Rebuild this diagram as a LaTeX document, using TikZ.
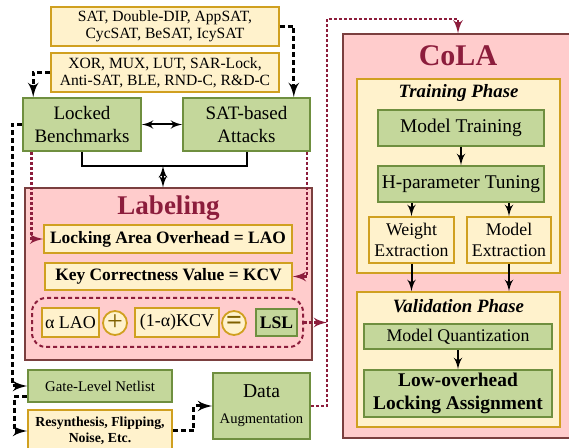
\documentclass[tikz,border=0pt]{standalone}
\usepackage{fontspec}
\setmainfont{Liberation Serif}
\usetikzlibrary{arrows}
\definecolor{yelfill}{HTML}{FFF2CC}
\definecolor{yeldraw}{HTML}{D0A020}
\definecolor{grnfill}{HTML}{C4D79B}
\definecolor{grndraw}{HTML}{6F8F3F}
\definecolor{pinkfill}{HTML}{FFCCCC}
\definecolor{pinkdraw}{HTML}{7B3F3F}
\definecolor{titlered}{HTML}{8C1D3C}
\definecolor{circtext}{HTML}{7F6000}

\begin{document}
\begin{tikzpicture}[x=0.5pt, y=-0.5pt]
	\tikzset{ybox/.style = {draw=yeldraw, fill=yelfill, line width=0.8pt, inner sep=0pt, align=center}}
	\tikzset{gbox/.style = {draw=grndraw, fill=grnfill, line width=0.8pt, inner sep=0pt, align=center}}
	\tikzset{pbox/.style = {draw=pinkdraw, fill=pinkfill, line width=0.6pt, inner sep=0pt}}
	\tikzset{circ/.style = {shape=circle, draw=yeldraw, fill=yelfill, line width=0.9pt, inner sep=0pt, minimum size=12pt, text=circtext}}
	\tikzset{edge/.style = {->, > = latex', line width=1pt}}
	\tikzset{dedge/.style = {->, > = latex', line width=1.5pt, dash pattern=on 2.5pt off 1.5pt}}
	\tikzset{redge/.style = {->, > = latex', titlered, line width=1.3pt, dash pattern=on 1.4pt off 1.1pt}}
	\useasboundingbox (0, 0) rectangle (569, 448);
	\clip (0, 0) rectangle (569, 448);
	% left part
	\node[ybox, minimum width=114pt, minimum height=19.5pt, font=\fontsize{7.8}{8.7}\selectfont] (atklist) at (165, 26.5) {SAT, Double-DIP, AppSAT,\\CycSAT, BeSAT, IcySAT};
	\node[ybox, minimum width=114pt, minimum height=19.5pt, font=\fontsize{7.8}{8.7}\selectfont] (locklist) at (165, 72.5) {XOR, MUX, LUT, SAR-Lock,\\Anti-SAT, BLE, RND-C, R\&D-C};
	\node[gbox, minimum width=59pt, minimum height=26.5pt, font=\fontsize{9.5}{11.5}\selectfont] (bench) at (82, 124.5) {Locked\\Benchmarks};
	\node[gbox, minimum width=63.5pt, minimum height=26.5pt, font=\fontsize{9.5}{11.5}\selectfont] (attack) at (246.5, 124.5) {SAT-based\\Attacks};
	\node[pbox, minimum width=143.5pt, minimum height=86pt] (labeling) at (168.5, 274) {};
	\node[text=titlered, font=\fontsize{13.5}{14}\selectfont\bfseries] (labtitle) at (168.5, 208) {Labeling};
	\node[ybox, minimum width=124pt, minimum height=14pt, font=\fontsize{8.7}{9}\selectfont\bfseries] (lao) at (168, 239) {Locking Area Overhead = LAO};
	\node[ybox, minimum width=123.5pt, minimum height=13.5pt, font=\fontsize{8.7}{9}\selectfont\bfseries] (kcv) at (168.5, 276.5) {Key Correctness Value = KCV};
	\node[draw=titlered, line width=1pt, dash pattern=on 2pt off 1.5pt, rounded corners=7pt, minimum width=135.5pt, minimum height=24.5pt] (lslgroup) at (167.5, 322.5) {};
	\node[ybox, minimum width=28.5pt, minimum height=14.5pt, font=\fontsize{9}{9}\selectfont] (alao) at (70.5, 322.5) {α LAO};
	\node[circ, font=\fontsize{14}{14}\selectfont] (plus) at (115, 323) {+};
	\node[ybox, minimum width=42pt, minimum height=14.5pt, font=\fontsize{9}{9}\selectfont] (akcv) at (177, 322.5) {(1-α)KCV};
	\node[circ, font=\fontsize{14}{14}\selectfont\bfseries] (equal) at (234, 323) {=};
	\node[gbox, minimum width=20.5pt, minimum height=13.5pt, font=\fontsize{8.8}{9}\selectfont\bfseries] (lsl) at (276.5, 322.5) {LSL};
	\node[gbox, minimum width=72pt, minimum height=16pt, font=\fontsize{7.4}{8}\selectfont] (gate) at (100, 386) {Gate-Level Netlist};
	\node[ybox, minimum width=72pt, minimum height=21pt, font=\fontsize{6.9}{8}\selectfont\bfseries] (resyn) at (100, 431) {Resynthesis, Flipping,\\Noise, Etc.};
	\node[gbox, minimum width=48.5pt, minimum height=33pt] (data) at (261.5, 406) {\fontsize{9.8}{10}\selectfont Data\\[1pt]\fontsize{7.3}{9}\selectfont Augmentation};
	% CoLA part
	\node[pbox, minimum width=115pt, minimum height=202pt] (cola) at (458, 236) {};
	\node[text=titlered, font=\fontsize{15}{16}\selectfont\bfseries] (colatitle) at (458, 56) {CoLA};
	\node[ybox, minimum width=101.5pt, minimum height=97pt] (train) at (458.5, 176) {};
	\node[font=\fontsize{9.4}{10}\selectfont\bfseries\itshape] (traintitle) at (458.5, 93) {Training Phase};
	\node[gbox, minimum width=83pt, minimum height=18pt, font=\fontsize{9.7}{10}\selectfont] (mtrain) at (461, 128) {Model Training};
	\node[gbox, minimum width=83pt, minimum height=18pt, font=\fontsize{9.7}{10}\selectfont] (hparam) at (461, 184) {H-parameter Tuning};
	\node[ybox, minimum width=42.5pt, minimum height=23pt, font=\fontsize{8.9}{10.8}\selectfont] (wext) at (411.5, 240) {Weight\\Extraction};
	\node[ybox, minimum width=42pt, minimum height=23pt, font=\fontsize{8.9}{10.8}\selectfont] (mext) at (509, 240) {Model\\Extraction};
	\node[ybox, minimum width=101.5pt, minimum height=67.5pt] (valid) at (458.5, 359.5) {};
	\node[font=\fontsize{9.4}{10}\selectfont\bfseries\itshape] (validtitle) at (458.5, 306) {Validation Phase};
	\node[gbox, minimum width=94pt, minimum height=12.5pt, font=\fontsize{8.9}{9}\selectfont] (mquant) at (458, 336.5) {Model Quantization};
	\node[gbox, minimum width=94pt, minimum height=23.5pt, font=\fontsize{9.7}{11.5}\selectfont\bfseries] (lowov) at (458, 393.5) {Low-overhead\\Locking Assignment};
	\coordinate (join) at (163, 166);
	\coordinate (bend) at (327, 19);
	% connectors
	\draw[edge, <->] (bench) to (attack);
	\draw[line width=1pt] (bench.south) |- (join) -| (attack.south);
	\draw[edge, <->] (join) to (join |- labeling.north);
	\draw[dedge] (atklist.east) -| ([xshift=-8.5pt]attack.north east);
	\draw[dedge] (locklist.west) -| ([xshift=5.5pt]bench.north west);
	\draw[dedge] (bench.west) -- ++(-10, 0) |- (gate.west);
	\draw[dedge] ([yshift=-5.5pt]gate.west) -- ++(-13, 0) |- (resyn.west);
	\draw[dedge] (resyn.east) -- ++(21, 0) |- (data.west);
	\draw[redge] ([xshift=4.5pt]bench.south west) |- (lao.west);
	\draw[redge] ([xshift=-2pt]attack.south east) |- (kcv.east);
	\draw[redge] (lslgroup.east) to (lslgroup.east -| bend);
	\draw[redge] (data.east) -| (bend) -| (cola.north);
	\draw[edge] (mtrain) to (hparam);
	\draw[edge] (wext.north |- hparam.south) to (wext.north);
	\draw[edge] (mext.north |- hparam.south) to (mext.north);
	\draw[edge] (wext.south) to (wext.south |- valid.north);
	\draw[edge] (mext.south) to (mext.south |- valid.north);
	\draw[edge] (mquant) to (lowov);
\end{tikzpicture}
\end{document}
